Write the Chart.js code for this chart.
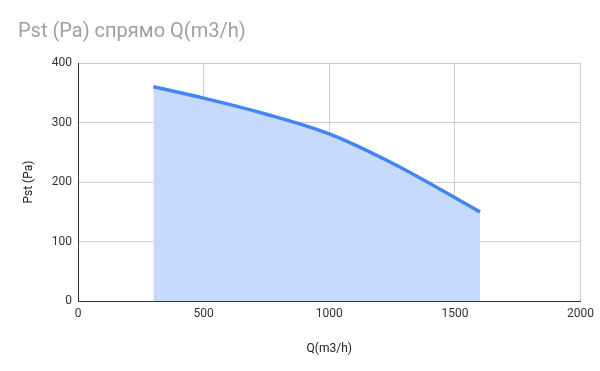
<!DOCTYPE html>
<html>
<head>
<meta charset="utf-8">
<script src="https://cdn.jsdelivr.net/npm/chart.js@4/dist/chart.umd.min.js"></script>
<style>
  html, body { margin: 0; padding: 0; background: #fff; }
  #wrap { width: 600px; height: 371px; }
</style>
</head>
<body>
<div id="wrap"><canvas id="myChart"></canvas></div>
<script>
const qValues = [300, 500, 750, 1000, 1250, 1600];
const pValues = [360, 341, 314, 281, 232, 150];
const xTicks = [0, 500, 1000, 1500, 2000];
const yTicks = [0, 100, 200, 300, 400];

const points = qValues.map((q, i) => ({x: q, y: pValues[i]}));

new Chart("myChart", {
  type: "line",
  data: {
    datasets: [{
      data: points,
      borderColor: "#4285f4",
      borderWidth: 3.5,
      backgroundColor: "#c6dafc",
      fill: "origin",
      pointRadius: 0,
      cubicInterpolationMode: "monotone"
    }]
  },
  options: {
    responsive: true,
    maintainAspectRatio: false,
    animation: false,
    layout: {padding: {left: 18, right: 19, top: 8, bottom: 11}},
    plugins: {
      legend: {display: false},
      tooltip: {enabled: false},
      title: {
        display: true,
        text: "Pst (Pa) спрямо Q(m3/h)",
        align: "start",
        color: "#a0a0a0",
        font: {family: "Roboto", size: 20, weight: "normal"},
        padding: {top: 12, bottom: 19}
      }
    },
    scales: {
      x: {
        type: "linear",
        min: xTicks[0],
        max: xTicks[xTicks.length - 1],
        afterBuildTicks: s => { s.ticks = xTicks.map(v => ({value: v})); },
        ticks: {color: "#333", font: {family: "Roboto", size: 12}, padding: 6, callback: v => String(v)},
        grid: {color: "#cccccc", drawTicks: false},
        border: {color: "#333", width: 1},
        title: {display: true, text: "Q(m3/h)", color: "#222", font: {family: "Roboto", size: 12}, padding: {top: 14}}
      },
      y: {
        min: yTicks[0],
        max: yTicks[yTicks.length - 1],
        afterBuildTicks: s => { s.ticks = yTicks.map(v => ({value: v})); },
        afterFit: s => { s.width = 60; },
        ticks: {color: "#333", font: {family: "Roboto", size: 12}, padding: 6, callback: v => String(v)},
        grid: {color: "#cccccc", drawTicks: false},
        border: {color: "#333", width: 1},
        title: {display: true, text: "Pst (Pa)", color: "#222", font: {family: "Roboto", size: 12}}
      }
    }
  }
});
</script>
</body>
</html>
